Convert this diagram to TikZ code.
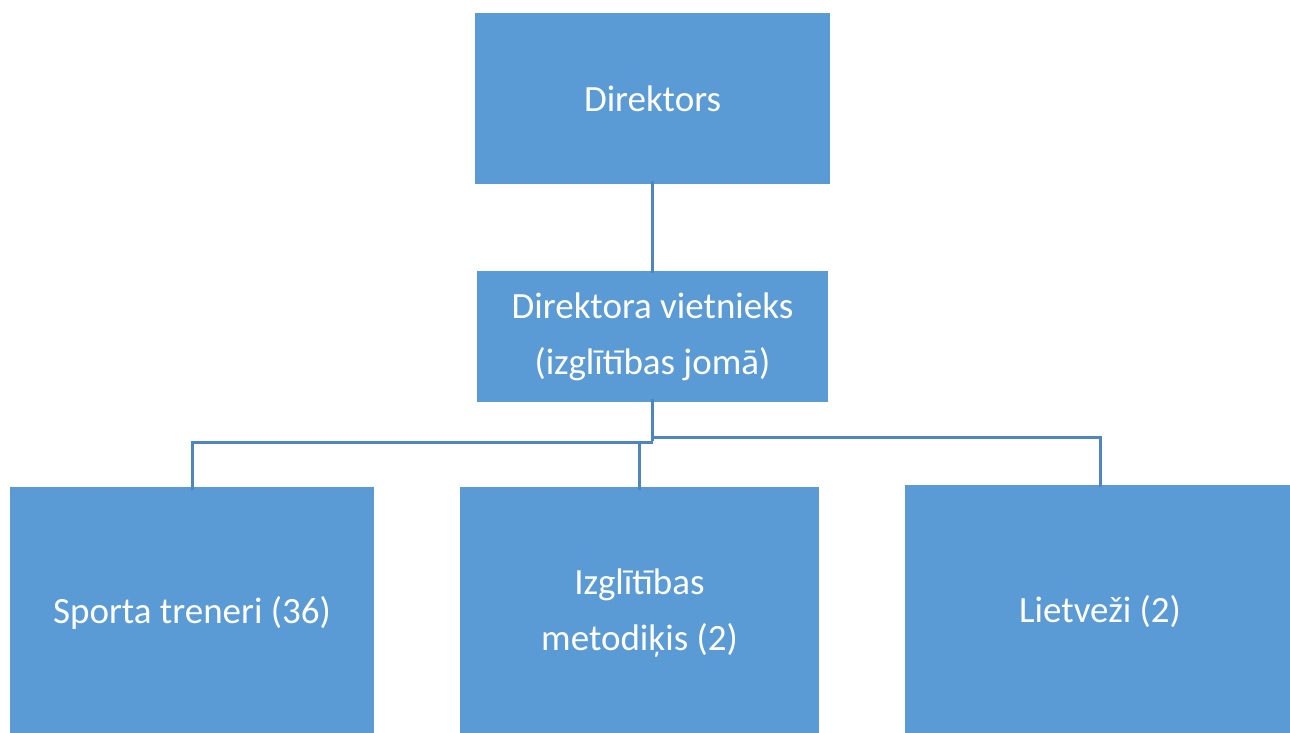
\documentclass[tikz,border=0pt]{standalone}
\usepackage{fontspec}
\setmainfont{Carlito}
\definecolor{boxblue}{HTML}{5B9BD5}
\definecolor{linkblue}{HTML}{4F86C0}
\begin{document}
\begin{tikzpicture}[x=1pt,y=-1pt,
  orgbox/.style={fill=boxblue, draw=none, text=white, align=center,
    inner sep=0pt, font=\fontsize{37}{56}\selectfont},
  link/.style={draw=linkblue, line width=3pt}]
  \useasboundingbox (0,0) rectangle (1290,733);
  \clip (0,0) rectangle (1290,733);
  \fill[white] (0,0) rectangle (1290,733);

  % boxes
  \node[orgbox, minimum width=355pt, minimum height=171pt] (dir) at (652.5,98.5) {Direktors};
  \node[orgbox, minimum width=351pt, minimum height=131pt] (viet) at (652.5,336.5)
    {Direktora vietnieks\\(izglītības jomā)};
  \node[orgbox, minimum width=364pt, minimum height=252pt] (sport) at (192,613) {Sporta treneri (36)};
  \node[orgbox, minimum width=359pt, minimum height=252pt] (izgl) at (639.5,613)
    {Izglītības\\metodiķis (2)};
  \node[orgbox, minimum width=390pt, minimum height=254pt] (liet) at (1100,612) {Lietveži (2)};

  % branch points
  \coordinate (hubL) at (652.5,442);
  \coordinate (hubR) at (652.5,437);

  % connectors
  \draw[link] ([yshift=3pt]dir.south) -- ([yshift=-2pt]viet.north);
  \draw[link] ([yshift=3pt]viet.south) -- ([yshift=1.5pt]hubL);
  \draw[link] (hubL) -| ([yshift=-3pt]sport.north);
  \draw[link] (izgl.north |- hubL) -- ([yshift=-3pt]izgl.north);
  \draw[link] (hubR) -| ([yshift=-2pt]liet.north);
\end{tikzpicture}
\end{document}
